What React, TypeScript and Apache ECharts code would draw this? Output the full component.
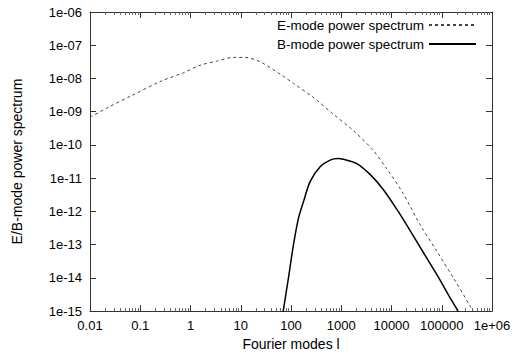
import React, { useEffect, useRef } from "react";
import * as echarts from "echarts";

// Fourier mode l values and power spectra
const eModeL = [0.01, 0.023, 0.066, 0.26, 0.72, 1.55, 3.3, 7, 12, 24, 70, 112, 276, 690, 1740, 4000, 8000, 17000, 37000, 79000, 170000, 360000, 450000];
const eModeP = [6.8e-10, 1.35e-9, 3.0e-9, 8.3e-9, 1.48e-8, 2.5e-8, 3.3e-8, 4.3e-8, 4.3e-8, 3.2e-8, 1.17e-8, 7.1e-9, 2.7e-9, 8.5e-10, 2.7e-10, 7.8e-11, 1.95e-11, 3.5e-12, 4.0e-13, 6.5e-14, 1.0e-14, 1.5e-15, 8.0e-16];

const bModeL = [66, 70, 89, 112, 141, 178, 240, 380, 600, 870, 1100, 2030, 3700, 6900, 12700, 23000, 43000, 79000, 145000, 210000, 250000];
const bModeP = [5.5e-16, 1.0e-15, 1.0e-14, 1.0e-13, 6.3e-13, 2.0e-12, 7.9e-12, 2.2e-11, 3.5e-11, 3.9e-11, 3.7e-11, 2.75e-11, 1.32e-11, 4.5e-12, 1.17e-12, 2.8e-13, 5.8e-14, 1.29e-14, 2.6e-15, 1.0e-15, 5.6e-16];

const seriesNames = ["E-mode power spectrum", "B-mode power spectrum"];
const xTitle = "Fourier modes l";
const yTitle = "E/B-mode power spectrum";
const xMin = 0.01;
const xMax = 1e6;
const yMin = 1e-15;
const yMax = 1e-6;

const FONT = "'Liberation Sans', Arial, Helvetica, sans-serif";

const fmtX = (v: number) => {
  const e = Math.round(Math.log10(v));
  if (e >= 6) return "1e+" + String(e).padStart(2, "0");
  return e < 0 ? Math.pow(10, e).toFixed(-e) : String(Math.pow(10, e));
};
const fmtY = (v: number) => {
  const e = Math.round(Math.log10(v));
  return "1e-" + String(-e).padStart(2, "0");
};

export default function App() {
  const ref = useRef<HTMLDivElement>(null);
  useEffect(() => {
    if (!ref.current) return;
    const chart = echarts.init(ref.current, null, { renderer: "svg" });
    const axisColor = "#333";
    const tickCommon = {
      axisLine: { show: true, lineStyle: { color: axisColor, width: 1 } },
      axisTick: { show: true, inside: true, length: 6, lineStyle: { color: axisColor } },
      minorTick: { show: true, splitNumber: 9, length: 3, lineStyle: { color: "#666" } },
      splitLine: { show: false },
    };
    chart.setOption({
      animation: false,
      backgroundColor: "#fff",
      textStyle: { fontFamily: FONT },
      grid: { left: 90, right: 27, top: 12, bottom: 42 },
      legend: {
        data: seriesNames,
        orient: "vertical",
        right: 42,
        top: 18,
        padding: 0,
        align: "right",
        itemWidth: 47,
        itemHeight: 10,
        itemGap: 5,
        itemStyle: { opacity: 0, borderWidth: 0 },
        textStyle: { fontSize: 13.5, color: "#000", fontFamily: FONT },
      },
      xAxis: [
        {
          type: "log",
          logBase: 10,
          min: xMin,
          max: xMax,
          name: xTitle,
          nameLocation: "middle",
          nameGap: 21,
          nameTextStyle: { fontSize: 14, color: "#000", fontFamily: FONT },
          axisLabel: { formatter: fmtX, fontSize: 13, color: "#000", margin: 8, fontFamily: FONT },
          ...tickCommon,
        },
        {
          type: "log",
          logBase: 10,
          min: xMin,
          max: xMax,
          position: "top",
          axisLabel: { show: false },
          ...tickCommon,
        },
      ],
      yAxis: [
        {
          type: "log",
          logBase: 10,
          min: yMin,
          max: yMax,
          name: yTitle,
          nameLocation: "middle",
          nameGap: 66,
          nameTextStyle: { fontSize: 14, color: "#000", fontFamily: FONT },
          axisLabel: { formatter: fmtY, fontSize: 13, color: "#000", margin: 8, fontFamily: FONT },
          ...tickCommon,
          minorTick: { show: false },
        },
        {
          type: "log",
          logBase: 10,
          min: yMin,
          max: yMax,
          position: "right",
          axisLabel: { show: false },
          ...tickCommon,
          minorTick: { show: false },
        },
      ],
      series: [
        {
          name: seriesNames[0],
          type: "line",
          xAxisIndex: 0,
          yAxisIndex: 0,
          data: eModeL.map((l, i) => [l, eModeP[i]]),
          symbol: "none",
          smooth: 0.3,
          clip: true,
          lineStyle: { color: "#444", width: 1, type: [3, 3] },
          itemStyle: { color: "#444" },
        },
        {
          name: seriesNames[1],
          type: "line",
          xAxisIndex: 0,
          yAxisIndex: 0,
          data: bModeL.map((l, i) => [l, bModeP[i]]),
          symbol: "none",
          smooth: 0.3,
          clip: true,
          lineStyle: { color: "#000", width: 1.5, type: "solid" },
          itemStyle: { color: "#000" },
        },
      ],
    });
    return () => chart.dispose();
  }, []);
  return <div ref={ref} style={{ width: 519, height: 356, position: "absolute", left: 0, top: 0 }} />;
}
